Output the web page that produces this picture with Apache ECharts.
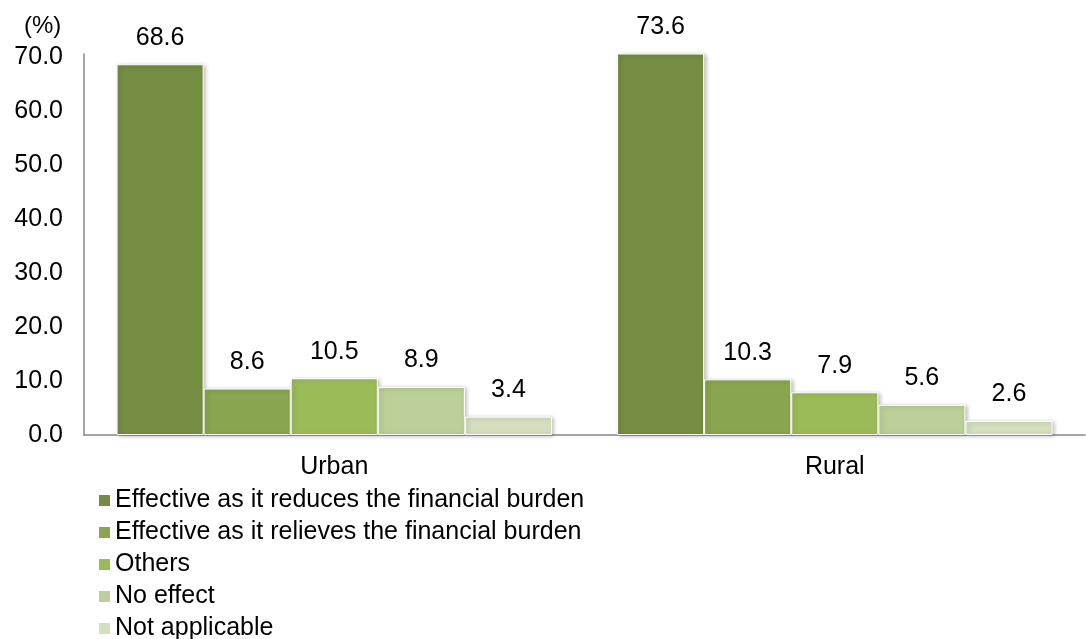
<!DOCTYPE html>
<html><head><meta charset="utf-8">
<script src="https://cdn.jsdelivr.net/npm/echarts@6/dist/echarts.min.js"></script>
<style>html,body{margin:0;padding:0;background:#fff}#c{width:1086px;height:639px}</style>
</head><body><div id="c"></div>
<script>
const categories = ['Urban', 'Rural'];
const seriesNames = [
  'Effective as it reduces the financial burden',
  'Effective as it relieves the financial burden',
  'Others',
  'No effect',
  'Not applicable'
];
const reducesBurden = [68.6, 73.6];
const relievesBurden = [8.6, 10.3];
const others = [10.5, 7.9];
const noEffect = [8.9, 5.6];
const notApplicable = [3.4, 2.6];
const colors = ['#758D42', '#8AA54F', '#9BBB59', '#BBCF98', '#D3DFBE'];
const yMax = 70.5;

const allValues = [reducesBurden, relievesBurden, others, noEffect, notApplicable];
const font = 'Liberation Sans, Arial, sans-serif';

const chart = echarts.init(document.getElementById('c'));
chart.setOption({
  animation: false,
  textStyle: { fontFamily: font },
  grid: { left: 84, right: 1, top: 54, bottom: 204 },
  graphic: [{ type: 'text', left: 24, top: 14, style: { text: '(%)', font: '24px ' + font, fill: '#000' } }],
  legend: {
    orient: 'vertical', left: 97, top: 488, height: 200, padding: 0,
    itemWidth: 13, itemHeight: 13, itemGap: 7,
    icon: 'rect',
    textStyle: { fontSize: 25, color: '#000', lineHeight: 25, padding: [0, 0, 0, -1] },
    data: seriesNames
  },
  xAxis: {
    type: 'category', data: categories,
    axisLine: { lineStyle: { color: '#888', width: 1.5 } },
    axisTick: { show: false },
    axisLabel: { fontSize: 25, color: '#000', margin: 20 }
  },
  yAxis: {
    type: 'value', min: 0, max: yMax, interval: 10,
    axisLine: { show: true, lineStyle: { color: '#888', width: 1.5 } },
    axisTick: { show: false },
    splitLine: { show: false },
    axisLabel: { fontSize: 25, color: '#000', margin: 21, showMaxLabel: false,
      formatter: v => v.toFixed(1) }
  },
  series: allValues.map((vals, i) => ({
    name: seriesNames[i], type: 'bar',
    barGap: '0%', barCategoryGap: '13%',
    itemStyle: { color: colors[i], borderColor: '#fff', borderWidth: 1,
      shadowColor: 'rgba(0,0,0,0.25)', shadowBlur: 4, shadowOffsetX: 2, shadowOffsetY: 1 },
    label: { show: true, position: 'top', distance: 14, fontSize: 25, color: '#000',
      formatter: p => p.value.toFixed(1) },
    data: vals
  }))
});
</script></body></html>
